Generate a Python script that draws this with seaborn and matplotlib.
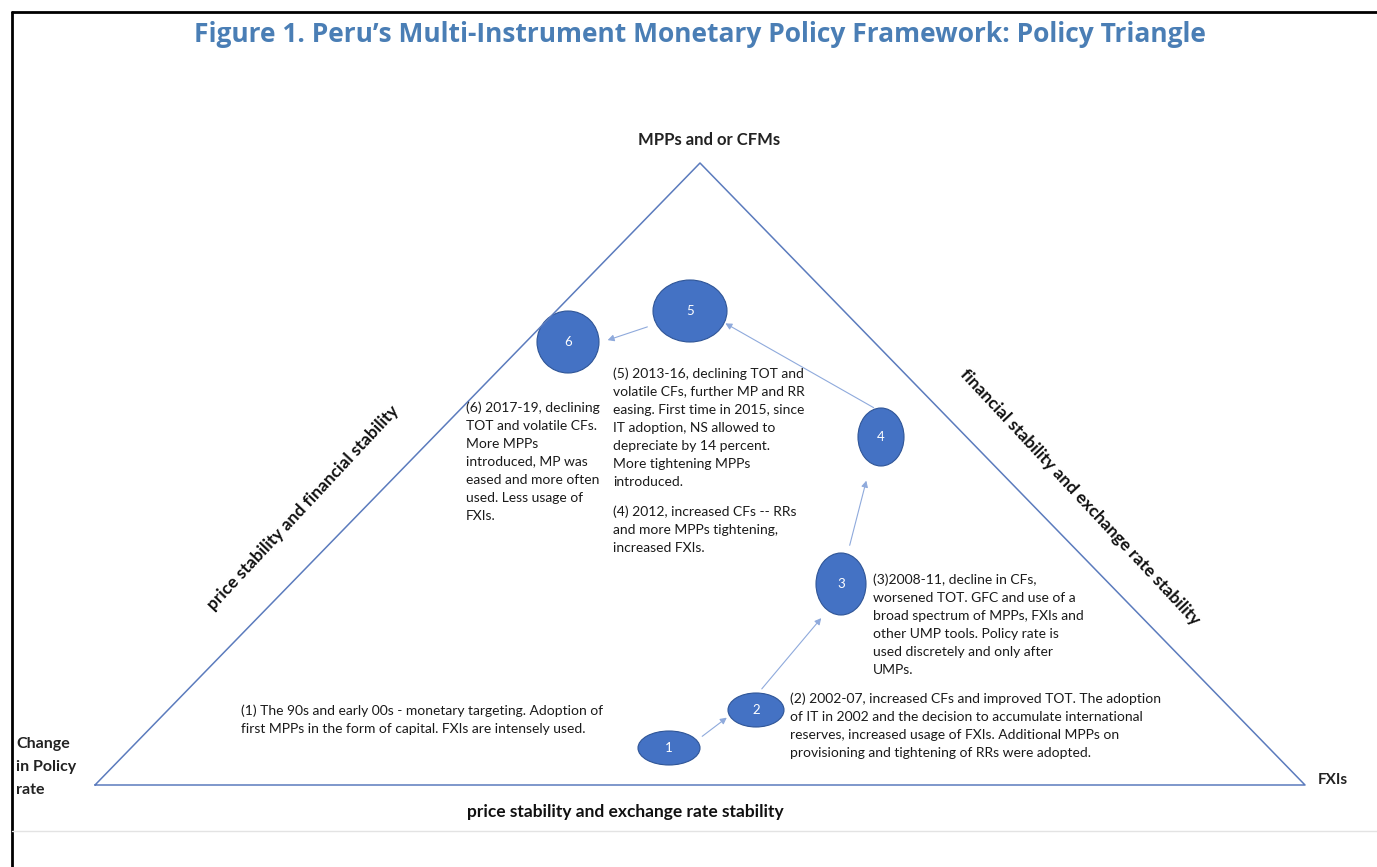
import matplotlib
matplotlib.use("Agg")
import matplotlib.pyplot as plt
from matplotlib.patches import Ellipse, FancyArrowPatch
import pandas as pd
import seaborn as sns

# ---- content ----
title = "Figure 1. Peru\u2019s Multi-Instrument Monetary Policy Framework: Policy Triangle"
corner_labels = ["MPPs and or CFMs", "Change\nin Policy\nrate", "FXIs"]
side_labels = ["price stability and financial stability",
               "financial stability and exchange rate stability",
               "price stability and exchange rate stability"]
stages = ["1", "2", "3", "4", "5", "6"]
stage_texts = [
    "(1) The 90s and early 00s - monetary targeting. Adoption of\nfirst MPPs in the form of capital. FXIs are intensely used.",
    "(2) 2002-07, increased CFs and improved TOT. The adoption\nof IT in 2002 and the decision to accumulate international\nreserves, increased usage of FXIs. Additional MPPs on\nprovisioning and tightening of RRs were adopted.",
    "(3)2008-11, decline in CFs,\nworsened TOT. GFC and use of a\nbroad spectrum of MPPs, FXIs and\nother UMP tools. Policy rate is\nused discretely and only after\nUMPs.",
    "(4) 2012, increased CFs -- RRs\nand more MPPs tightening,\nincreased FXIs.",
    "(5) 2013-16, declining TOT and\nvolatile CFs, further MP and RR\neasing. First time in 2015, since\nIT adoption, NS allowed to\ndepreciate by 14 percent.\nMore tightening MPPs\nintroduced.",
    "(6) 2017-19, declining\nTOT and volatile CFs.\nMore MPPs\nintroduced, MP was\neased and more often\nused. Less usage of\nFXIs.",
]

# ---- layout (pixel coordinates of the 1377x867 canvas) ----
W, H = 1377, 867
tri_x = [95, 700, 1305, 95]
tri_y = [785, 163, 785, 785]
circ_x = [669, 756, 841, 881, 690, 568]
circ_y = [748, 710, 584, 437, 311, 342]
circ_w = [62, 56, 50, 46, 74, 62]
circ_h = [34, 34, 62, 58, 62, 62]
arrows = [((700, 738), (729, 716)), ((760, 691), (823, 616)), ((849, 548), (867, 478)),
          ((876, 409), (723, 322)), ((650, 326), (605, 341))]
text_pos = [(241, 704), (790, 692), (873, 573), (613, 505), (613, 367), (466, 401)]

sns.set_theme(style="white")
plt.rcParams['font.family'] = ['Lato', 'DejaVu Sans']

fig = plt.figure(figsize=(W / 100, H / 100), dpi=100)
ax = fig.add_axes([0, 0, 1, 1])
ax.set_xlim(0, W)
ax.set_ylim(H, 0)
ax.axis("off")

# frame lines
ax.plot([12, W], [12, 12], color="black", lw=2)
ax.plot([12, 12], [12, H], color="black", lw=2)
ax.plot([12, W], [831, 831], color="#e3e3e3", lw=1)

# triangle
tri = pd.DataFrame({"x": tri_x, "y": tri_y})
sns.lineplot(data=tri, x="x", y="y", sort=False, estimator=None, ax=ax,
             color="#5b7bbd", lw=1.1)

# arrows
for (x0, y0), (x1, y1) in arrows:
    ax.add_patch(FancyArrowPatch((x0, y0), (x1, y1), arrowstyle="-|>,head_length=2.5,head_width=1.3",
                                 color="#8faadc", lw=0.8, mutation_scale=1.5))

# circles
for s, x, y, w, h in zip(stages, circ_x, circ_y, circ_w, circ_h):
    ax.add_patch(Ellipse((x, y), w, h, facecolor="#4472c4", edgecolor="#2f5597", lw=0.8))
    ax.text(x, y, s, color="white", fontsize=9.5, ha="center", va="center")

# stage texts
for t, (x, y) in zip(stage_texts, text_pos):
    ax.text(x, y, t, fontsize=10, color="#1a1a1a", ha="left", va="top", linespacing=1.6)

# title
ax.text(700, 35, title, fontsize=19, fontweight="bold", color="#4a7eb5",
        ha="center", va="center", family=["Open Sans", "DejaVu Sans"])

# corner labels
ax.text(709, 140, corner_labels[0], fontsize=12, fontweight="bold", color="#222222",
        ha="center", va="center")
ax.text(16, 767, corner_labels[1], fontsize=11.5, fontweight="bold", color="#222222",
        ha="left", va="center", linespacing=1.85)
ax.text(1318, 780, corner_labels[2], fontsize=11, fontweight="bold", color="#222222",
        ha="left", va="center")

# side labels
ax.text(303, 508, side_labels[0], fontsize=12.5, fontweight="bold", color="#111111",
        ha="center", va="center", rotation=47, rotation_mode="anchor")
ax.text(1080, 497, side_labels[1], fontsize=12.5, fontweight="bold", color="#111111",
        ha="center", va="center", rotation=-47, rotation_mode="anchor")
ax.text(625, 812, side_labels[2], fontsize=12.5, fontweight="bold", color="#111111",
        ha="center", va="center")

fig.savefig("out.png", dpi=100)
